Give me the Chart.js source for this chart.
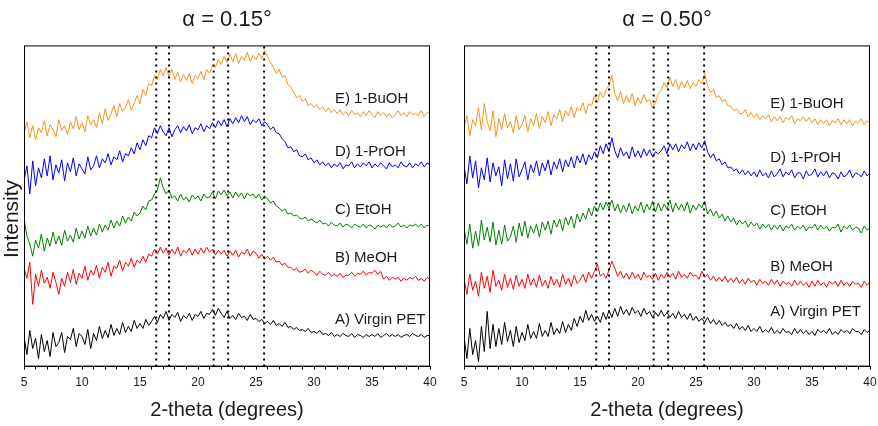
<!DOCTYPE html>
<html>
<head>
<meta charset="utf-8">
<script src="https://cdn.jsdelivr.net/npm/chart.js@4"></script>
<style>
  body { margin: 0; background: #fff; }
  #wrap { position: relative; width: 878px; height: 426px; }
  canvas { position: absolute; top: 0; }
</style>
</head>
<body>
<div id="wrap">
  <canvas id="left" width="440" height="426" style="left:0"></canvas>
  <canvas id="right" width="438" height="426" style="left:440px"></canvas>
</div>
<script>
// 2-theta grid, 0.25 degree steps from 5 to 40
const twoTheta = Array.from({ length: 141 }, (_, i) => 5 + i * 0.25);

const seriesNames = ['A) Virgin PET', 'B) MeOH', 'C) EtOH', 'D) 1-PrOH', 'E) 1-BuOH'];
const seriesColors = ['#000000', '#ff0000', '#008000', '#0000ff', '#f8921e'];
const peakLines = [16.4, 17.5, 21.35, 22.6, 25.7];
const xTicks = [5, 10, 15, 20, 25, 30, 35, 40];

// alpha = 0.15 deg (values in arbitrary intensity units, stacked)
const leftA = [
  30, 12, 36, 18,  28, 8, 32, 15,  26, 10, 34, 20,  24, 34, 14, 30,  27, 38, 20, 33,
  30, 22, 37, 18,  33, 26, 40, 28,  36, 29, 42, 31,  38, 32, 44, 34,  40, 35, 46, 38,
  43, 38, 47, 41,  45, 50, 44, 52,  48, 55, 46, 52,  49, 54, 45, 51,  48, 53, 46, 52,
  50, 55, 48, 53,  52, 57, 51, 58,  53, 49, 55, 48,  51, 47, 53, 49,  50, 46, 52, 47,
  48, 45, 47, 43,  45, 42, 46, 41,  43, 40, 44, 39,  40, 37, 39, 36,  37, 35, 38, 34,
  35, 33, 36, 32,  33, 31, 34, 30,  32, 30, 33, 31,  30, 33, 29, 32,  31, 29, 32, 30,
  32, 30, 33, 29,  31, 33, 30, 32,  30, 32, 29, 31,  32, 30, 33, 31,  30, 32, 29, 31,
  31
];
const leftB = [
  98, 88, 104, 62,  92, 80, 96, 83,  89, 78, 94, 84,  72, 88, 80, 94,  84, 97, 82, 93,
  88, 100, 86, 96,  91, 101, 88, 99,  94, 104, 90, 100,  98, 106, 95, 104,  100, 108, 99, 106,
  103, 110, 104, 112,  110, 117, 112, 119,  113, 118, 111, 117,  112, 119, 110, 116,  113, 118, 111, 117,
  112, 118, 113, 119,  114, 117, 111, 116,  112, 116, 110, 115,  111, 116, 109, 114,  112, 117, 110, 115,
  113, 108, 112, 107,  110, 106, 109, 104,  105, 101, 103, 99,  99, 96, 98, 94,  95, 97, 93, 96,
  94, 91, 95, 92,  91, 94, 90, 92,  90, 93, 89, 91,  91, 94, 90, 93,  92, 95, 91, 94,
  93, 96, 92, 95,  87, 90, 86, 89,  87, 89, 85, 88,  86, 89, 87, 90,  86, 88, 85, 89,
  87
];
const leftC = [
  148, 130, 122, 110,  126, 118, 132, 115,  128, 120, 134, 122,  130, 121, 136, 125,  131, 124, 138, 127,
  135, 128, 140, 130,  138, 131, 142, 134,  141, 136, 146, 138,  145, 140, 150, 143,  149, 145, 154, 150,
  153, 160, 156, 165,  166, 172, 176, 188,  178, 172, 176, 168,  170, 165, 172, 166,  169, 164, 171, 167,
  170, 165, 172, 168,  169, 174, 167, 175,  171, 176, 170, 174,  168, 174, 169, 173,  167, 173, 170, 172,
  168, 172, 166, 170,  167, 163, 165, 160,  158, 155, 157, 152,  153, 150, 151, 148,  147, 149, 145, 147,
  145, 143, 146, 142,  143, 140, 144, 141,  140, 143, 139, 142,  141, 138, 142, 140,  139, 142, 138, 141,
  140, 137, 141, 139,  141, 138, 142, 139,  140, 143, 139, 141,  138, 141, 140, 142,  139, 142, 138, 141,
  140
];
const leftD = [
  185, 200, 172, 205,  180, 198, 188, 207,  190, 210, 186, 201,  193, 206, 185, 203,  194, 208, 190, 202,
  197, 192, 209, 196,  200, 210, 198, 207,  203, 212, 201, 209,  206, 215, 204, 212,  210, 218, 212, 223,
  216, 226, 220, 230,  228, 238, 232, 240,  234, 230, 238, 229,  236, 240, 233, 239,  235, 241, 232, 238,
  236, 242, 234, 240,  237, 243, 238, 245,  240, 246, 239, 247,  242, 248, 243, 250,  244, 249, 241, 246,
  243, 247, 240, 244,  241, 236, 239, 233,  232, 227, 224, 218,  219, 214, 216, 210,  209, 212, 206, 208,
  203, 206, 201, 204,  200, 203, 198, 202,  199, 203, 197, 201,  200, 204, 198, 202,  199, 203, 200, 204,
  198, 202, 199, 203,  200, 197, 203, 199,  201, 198, 204, 200,  199, 203, 198, 202,  200, 204, 199, 203,
  201
];
const leftE = [
  232, 244, 228, 240,  226, 238, 233, 245,  230, 241, 236, 229,  246, 235, 240, 231,  244, 237, 249, 236,
  243, 234, 250, 241,  246, 238, 253, 242,  257, 245, 252, 260,  249, 262, 254, 258,  266, 255, 263, 270,
  262, 276, 270, 282,  280, 290, 286, 296,  290, 298, 289, 296,  286, 293, 284, 291,  285, 292, 282, 290,
  287, 294, 286, 296,  292, 300, 298, 306,  301, 309, 303, 311,  304, 312, 302, 309,  305, 313, 304, 310,
  306, 312, 307, 315,  309, 303, 298, 292,  296, 288, 290, 281,  279, 273, 268, 270,  264, 267, 260, 262,
  258, 261, 256, 259,  254, 258, 253, 256,  252, 256, 251, 254,  250, 255, 251, 253,  249, 254, 250, 255,
  251, 248, 254, 250,  253, 249, 252, 248,  251, 255, 250, 253,  249, 254, 251, 252,  250, 255, 249, 253,
  252
];

// alpha = 0.50 deg
const rightA = [
  30, 8, 38, 12,  26, 5, 40, 15,  55, 18, 42, 20,  38, 22, 44, 25,  36, 20, 40, 24,
  34, 26, 42, 28,  35, 28, 43, 30,  36, 30, 44, 32,  38, 33, 45, 34,  42, 36, 48, 40,
  50, 44, 56, 46,  52, 45, 50, 44,  54, 47, 56, 49,  58, 50, 60, 52,  57, 51, 59, 53,
  56, 50, 58, 52,  55, 49, 54, 50,  56, 50, 54, 49,  53, 48, 55, 49,  52, 47, 53, 46,
  50, 45, 48, 44,  49, 43, 47, 42,  46, 41, 44, 40,  42, 38, 43, 37,  40, 36, 41, 35,
  38, 35, 40, 34,  37, 34, 39, 33,  36, 33, 38, 34,  35, 32, 38, 33,  37, 33, 36, 32,
  35, 31, 37, 34,  36, 33, 38, 32,  35, 32, 37, 34,  36, 33, 38, 35,  35, 32, 37, 34,
  36
];
const rightB = [
  88, 72, 92, 76,  85, 70, 94, 78,  90, 74, 96, 80,  86, 76, 92, 79,  88, 77, 91, 80,
  87, 78, 92, 81,  88, 79, 91, 80,  86, 78, 90, 81,  87, 79, 92, 82,  88, 80, 91, 83,
  86, 92, 84, 94,  88, 95, 102, 90,  93, 88, 96, 105,  98, 90, 95, 88,  93, 87, 94, 88,
  92, 86, 94, 89,  91, 87, 93, 86,  92, 88, 94, 89,  93, 87, 95, 89,  92, 88, 94, 90,
  91, 87, 95, 89,  92, 86, 90, 85,  89, 85, 90, 84,  88, 84, 89, 83,  87, 82, 88, 84,
  86, 81, 87, 83,  85, 81, 87, 82,  86, 80, 85, 82,  84, 80, 86, 81,  85, 81, 84, 79,
  85, 80, 86, 81,  84, 79, 85, 82,  85, 80, 86, 81,  84, 80, 85, 82,  83, 79, 85, 81,
  84
];
const rightC = [
  138, 122, 142, 118,  135, 120, 146, 126,  139, 124, 144, 121,  136, 122, 141, 125,  129, 140, 124, 143,
  130, 145, 128, 140,  133, 142, 129, 144,  136, 145, 132, 146,  139, 147, 135, 149,  141, 150, 138, 152,
  144, 153, 147, 158,  150, 160, 154, 163,  156, 164, 158, 166,  155, 162, 153, 161,  154, 163, 152, 160,
  155, 164, 153, 162,  156, 165, 154, 163,  155, 162, 157, 166,  154, 163, 156, 162,  155, 164, 153, 161,
  156, 162, 158, 165,  152, 157, 150, 155,  148, 152, 145, 150,  144, 148, 141, 146,  142, 145, 139, 144,
  140, 143, 137, 142,  138, 142, 136, 141,  137, 141, 135, 140,  138, 142, 136, 140,  137, 141, 135, 139,
  138, 142, 136, 141,  137, 140, 135, 139,  138, 142, 134, 140,  137, 141, 136, 139,  138, 133, 140, 136,
  138
];
const rightD = [
  200, 182, 210, 188,  205, 178, 198, 186,  208, 184, 203, 190,  199, 180, 206, 187,  202, 185, 207, 189,
  196, 204, 186, 201,  193, 205, 190, 203,  195, 206, 191, 204,  197, 207, 194, 206,  199, 209, 198, 210,
  203, 212, 201, 211,  206, 214, 208, 220,  212, 222, 214, 228,  215, 208, 218, 210,  214, 207, 219, 209,
  215, 208, 217, 210,  216, 209, 214, 212,  215, 220, 212, 222,  216, 222, 214, 221,  217, 224, 215, 222,
  216, 223, 218, 225,  214, 208, 212, 205,  207, 201, 204, 198,  199, 195, 197, 192,  196, 191, 195, 190,
  194, 189, 196, 190,  193, 188, 195, 189,  192, 197, 189, 194,  191, 196, 188, 193,  193, 187, 195, 190,
  192, 197, 189, 194,  190, 195, 188, 193,  192, 187, 194, 189,  191, 196, 188, 193,  192, 189, 195, 190,
  193
];
const rightE = [
  238, 250, 230, 246,  240, 258, 236, 262,  244, 235, 255, 229,  247, 236, 252, 238,  244, 233, 250, 236,
  241, 250, 234, 247,  240, 252, 237, 249,  243, 254, 240, 251,  247, 256, 244, 255,  250, 259, 248, 258,
  255, 263, 252, 262,  260, 270, 263, 274,  268, 276, 280, 290,  272, 265, 274, 262,  270, 263, 272, 260,
  268, 262, 271, 264,  266, 258, 263, 272,  275, 283, 278, 288,  279, 286, 276, 284,  278, 285, 277, 283,
  279, 286, 282, 292,  280, 273, 276, 268,  270, 264, 266, 260,  259, 255, 257, 252,  252, 256, 249, 253,
  248, 252, 246, 250,  247, 251, 244, 249,  245, 249, 243, 248,  246, 250, 242, 247,  245, 249, 244, 248,
  243, 247, 241, 246,  242, 246, 240, 245,  243, 247, 241, 246,  242, 246, 240, 244,  243, 247, 241, 245,
  242
];

// where the sample names sit (x in degrees, y in intensity units)
const leftLabelX = 31.8;
const leftLabelY = [47, 108, 156, 214, 267];
const rightLabelX = 31.4;
const rightLabelY = [55, 99, 155, 208, 262];

Chart.defaults.font.family = '"Liberation Sans", Arial, Helvetica, sans-serif';
Chart.defaults.color = '#1a1a1a';

const framePlugin = {
  id: 'frameAndLabels',
  afterDatasetsDraw(chart, args, opts) {
    const { ctx, chartArea: a } = chart;
    const x = chart.scales.x, y = chart.scales.y;
    ctx.save();
    ctx.font = '15px "Liberation Sans", Arial, sans-serif';
    ctx.fillStyle = '#1a1a1a';
    ctx.textBaseline = 'middle';
    ctx.textAlign = 'left';
    opts.ys.forEach((v, i) => {
      ctx.fillText(seriesNames[i], x.getPixelForValue(opts.x), y.getPixelForValue(v));
    });
    ctx.strokeStyle = '#000';
    ctx.lineWidth = 1;
    ctx.strokeRect(a.left + 0.5, a.top + 0.5, a.right - a.left - 1, a.bottom - a.top - 1);
    if (opts.yTitle) {
      ctx.save();
      ctx.translate(12, 219);
      ctx.rotate(-Math.PI / 2);
      ctx.font = '21px "Liberation Sans", Arial, sans-serif';
      ctx.textAlign = 'center';
      ctx.fillText(opts.yTitle, 0, 0);
      ctx.restore();
    }
    ctx.restore();
  }
};

function makePanel(id, title, series, labelX, labelYs, yTitle, padRight) {
  const datasets = [];
  // dotted reference lines first so they sit on top
  peakLines.forEach(p => {
    datasets.push({
      data: [{ x: p, y: 0 }, { x: p, y: 320 }],
      borderColor: '#000',
      borderWidth: 2,
      borderDash: [2, 4],
      pointRadius: 0
    });
  });
  for (let i = series.length - 1; i >= 0; i--) {
    datasets.push({
      data: twoTheta.map((t, j) => ({ x: t, y: series[i][j] })),
      borderColor: seriesColors[i],
      borderWidth: 1,
      pointRadius: 0,
      tension: 0
    });
  }

  return new Chart(document.getElementById(id), {
    type: 'line',
    data: { datasets },
    options: {
      responsive: false,
      animation: false,
      events: [],
      layout: { padding: { left: 24, right: padRight, top: 0, bottom: 4 } },
      plugins: {
        legend: { display: false },
        tooltip: { enabled: false },
        title: {
          display: true,
          text: title,
          color: '#1a1a1a',
          font: { size: 22, weight: 'normal' },
          padding: { top: 7, bottom: 12 }
        },
        frameAndLabels: { x: labelX, ys: labelYs, yTitle }
      },
      scales: {
        x: {
          type: 'linear',
          min: 5,
          max: 40,
          afterBuildTicks: axis => {
            const t = [];
            for (let v = 5; v <= 40; v++) t.push({ value: v });
            axis.ticks = t;
          },
          afterFit: axis => {
            axis.paddingLeft = 0;
            axis.paddingRight = 0;
          },
          ticks: {
            autoSkip: false,
            maxRotation: 0,
            padding: 6,
            color: '#1a1a1a',
            font: { size: 12 },
            callback: v => xTicks.includes(v) ? String(v) : ''
          },
          grid: { display: true, drawOnChartArea: false, drawTicks: true, tickLength: 3, color: '#000' },
          border: { display: true, color: '#000' },
          title: {
            display: true,
            text: '2-theta (degrees)',
            color: '#1a1a1a',
            font: { size: 20 },
            padding: { top: 2, bottom: 0 }
          }
        },
        y: {
          display: false,
          min: 0,
          max: 320
        }
      }
    },
    plugins: [framePlugin]
  });
}

makePanel('left', 'α = 0.15°', [leftA, leftB, leftC, leftD, leftE], leftLabelX, leftLabelY, 'Intensity', 10);
makePanel('right', 'α = 0.50°', [rightA, rightB, rightC, rightD, rightE], rightLabelX, rightLabelY, null, 8);
</script>
</body>
</html>
